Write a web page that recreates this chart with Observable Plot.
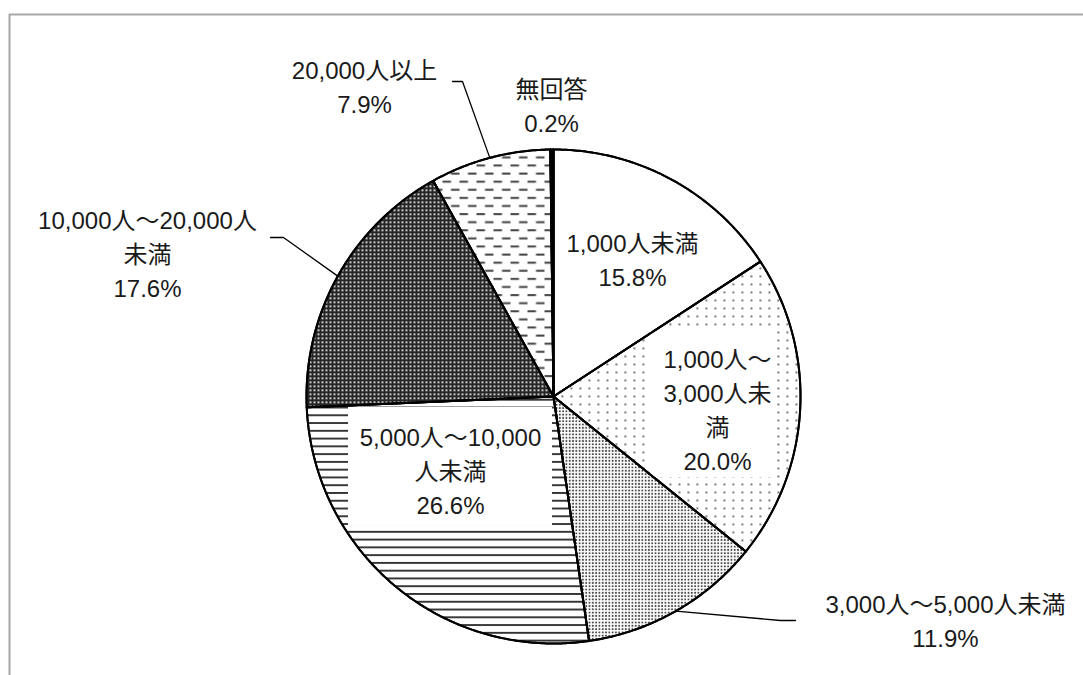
<!DOCTYPE html>
<html><head><meta charset="utf-8">
<script src="https://cdn.jsdelivr.net/npm/d3@7"></script>
<script src="https://cdn.jsdelivr.net/npm/@observablehq/plot@0.6"></script>
<style>body{margin:0;background:#fff;overflow:hidden} #chart{position:absolute;left:0;top:0}</style>
</head><body><div id="chart"></div>
<script>
// ---- data ----
const categories = ["1,000人未満","1,000人～3,000人未満","3,000人～5,000人未満","5,000人～10,000人未満","10,000人～20,000人未満","20,000人以上","無回答"];
const values = [15.8, 20.0, 11.9, 26.6, 17.6, 7.9, 0.2];
const labelLines = [["1,000人未満"],["1,000人～","3,000人未","満"],["3,000人～5,000人未満"],["5,000人～10,000","人未満"],["10,000人～20,000人","未満"],["20,000人以上"],["無回答"]];
const percentLabels = ["15.8%","20.0%","11.9%","26.6%","17.6%","7.9%","0.2%"];

// ---- layout / style ----
const W = 1083, H = 675, CX = 553, CY = 396, R = 247;
const fills = ["white","url(#dotsSparse)","url(#dotsDense)","url(#hlines)","url(#darkHatch)","url(#dashes)","black"];
const labelPos = [[632,257.5],[717,407.75],[945,619],[450,468.5],[147,252],[364,84.5],[551,103.5]];
const boxes = [null,[650,331,776,477],null,[348,407,552,525],null,null,null];
const leaderElbows = {2:[[780,620],[795,620]], 4:[[283,237],[270,237]], 5:[[462,81],[452,81]]};

const arcs = d3.pie().sort(null).value(d => d)(values);
const pt = (a, r) => ({x: CX + r*Math.sin(a), y: CY - r*Math.cos(a)});

const slicePolys = arcs.map((a, i) => {
  const pts = [{x: CX, y: CY}];
  const n = Math.max(2, Math.ceil((a.endAngle - a.startAngle) / (Math.PI/360)));
  for (let k = 0; k <= n; k++) pts.push(pt(a.startAngle + (a.endAngle - a.startAngle)*k/n, R));
  pts.push({x: CX, y: CY});
  return pts;
});

const labelData = categories.map((c, i) => ({
  text: labelLines[i].join("\n") + "\n" + percentLabels[i],
  x: labelPos[i][0], y: labelPos[i][1]
}));
const boxData = boxes.map((b, i) => b && {x1: b[0], y1: b[1], x2: b[2], y2: b[3]}).filter(Boolean);
const leaderData = Object.entries(leaderElbows).map(([i, els]) => {
  const a = arcs[+i];
  const p = pt((a.startAngle + a.endAngle)/2, R);
  return [p, ...els.map(([x, y]) => ({x, y}))];
});

const font = "'Liberation Sans', 'Noto Sans CJK JP', sans-serif";
const marks = [
  Plot.frame({stroke: "#a8a8a8", strokeWidth: 2, insetLeft: 9, insetTop: 14, insetRight: -20, insetBottom: -20}),
  ...slicePolys.map((poly, i) => Plot.line(poly, {x: "x", y: "y", fill: fills[i], stroke: "black", strokeWidth: 2, strokeLinejoin: "round"})),
  Plot.rect(boxData, {x1: "x1", y1: "y1", x2: "x2", y2: "y2", fill: "white"}),
  ...slicePolys.map((poly, i) => Plot.line(poly, {x: "x", y: "y", fill: "none", stroke: "black", strokeWidth: 2, strokeLinejoin: "round"})),
  ...leaderData.map(l => Plot.line(l, {x: "x", y: "y", stroke: "black", strokeWidth: 1.3})),
  Plot.text(labelData, {x: "x", y: "y", text: "text", fontSize: 24, lineHeight: 1.42, fontFamily: font, fill: "#1a1a1a"})
];

const svg = Plot.plot({
  width: W, height: H, margin: 0,
  x: {domain: [0, W], range: [0, W], axis: null},
  y: {domain: [0, H], range: [0, H], axis: null},
  style: {background: "white", overflow: "hidden"},
  marks
});

const defs = `
<pattern id="dotsSparse" width="9" height="8" patternUnits="userSpaceOnUse"><rect width="9" height="8" fill="white"/><rect x="3" y="3" width="1.7" height="1.7" fill="#4a4a4a"/></pattern>
<pattern id="dotsDense" width="3.3" height="3.3" patternUnits="userSpaceOnUse"><rect width="3.3" height="3.3" fill="white"/><rect x="0.7" y="0.7" width="1.8" height="1.8" fill="#4a4a4a"/></pattern>
<pattern id="hlines" width="6" height="7.77" y="2" patternUnits="userSpaceOnUse"><rect width="6" height="7.77" fill="white"/><rect y="0" width="6" height="1.9" fill="#333"/></pattern>
<pattern id="darkHatch" width="4" height="4" patternUnits="userSpaceOnUse"><rect width="4" height="4" fill="#262626"/><rect x="1" y="1" width="2" height="1.5" fill="#fff"/></pattern>
<pattern id="dashes" width="17" height="16.2" patternUnits="userSpaceOnUse"><rect width="17" height="16.2" fill="white"/><rect x="0" y="2" width="8.5" height="2" fill="#444"/><rect x="8.5" y="10.1" width="8.5" height="2" fill="#444"/></pattern>`;
const d = document.createElementNS("http://www.w3.org/2000/svg", "defs");
d.innerHTML = defs;
svg.insertBefore(d, svg.firstChild);
document.getElementById("chart").appendChild(svg);
</script></body></html>
